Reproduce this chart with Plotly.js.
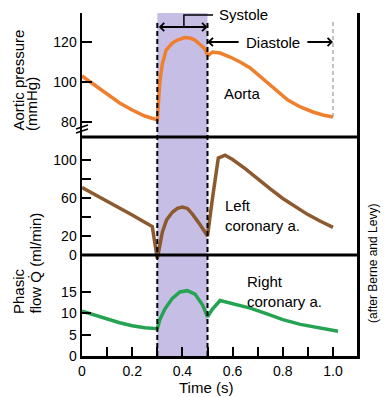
<!DOCTYPE html>
<html>
<head>
<meta charset="utf-8">
<script src="https://cdn.plot.ly/plotly-3.0.1.min.js"></script>
<style>html,body{margin:0;padding:0;background:#fff;}#chart{width:388px;height:397px;}</style>
</head>
<body>
<div id="chart"></div>
<script>
// ---- Data ----
const aortaTime = [0, 0.05, 0.1, 0.15, 0.2, 0.25, 0.3, 0.303, 0.31, 0.32, 0.335, 0.36, 0.38, 0.41, 0.43, 0.45, 0.47, 0.49, 0.5, 0.505, 0.52, 0.55, 0.59, 0.63, 0.67, 0.72, 0.77, 0.82, 0.87, 0.92, 0.96, 1.0];
const aortaPressure = [103, 98.5, 93.5, 89.5, 86, 83, 81, 88, 100, 109, 116, 119.5, 121, 122.2, 122, 121, 119, 116.5, 113.5, 113.5, 115, 114.5, 112.5, 110, 107, 101.5, 96, 91, 87.5, 85, 83.5, 82.5];

const leftTime = [0, 0.05, 0.1, 0.15, 0.2, 0.25, 0.28, 0.3, 0.31, 0.32, 0.337, 0.36, 0.38, 0.4, 0.42, 0.44, 0.47, 0.5, 0.52, 0.543, 0.57, 0.6, 0.65, 0.7, 0.75, 0.8, 0.85, 0.9, 0.95, 1.0];
const leftFlow = [71, 64, 56.5, 49.5, 42, 34.5, 30, -4, 12, 24, 37, 45, 49, 50.5, 49, 43, 32, 20, 60, 102, 105, 100.5, 91, 80, 69.5, 59.5, 50.5, 42.5, 35.5, 29];

const rightTime = [0, 0.05, 0.1, 0.15, 0.2, 0.25, 0.3, 0.31, 0.33, 0.36, 0.39, 0.42, 0.45, 0.48, 0.5, 0.52, 0.55, 0.6, 0.67, 0.74, 0.8, 0.87, 0.94, 1.02];
const rightFlow = [10.5, 9.6, 8.6, 7.8, 7.1, 6.6, 6.4, 8.5, 11, 13.5, 15, 15.3, 14.5, 12, 9.2, 11, 13, 12.3, 11.2, 9.8, 8.5, 7.4, 6.6, 5.8];

const xTickVals = [0, 0.1, 0.2, 0.3, 0.4, 0.5, 0.6, 0.7, 0.8, 0.9, 1.0];
const xTickText = ["0", "", "0.2", "", "0.4", "", "0.6", "", "0.8", "", "1.0"];
const aortaTickVals = [80, 100, 120];
const leftTickVals = [0, 20, 40, 60, 80, 100];
const leftTickText = ["0", "20", "", "60", "", "100"];
const rightTickVals = [0, 5, 10, 15];

const systoleStart = 0.3, systoleEnd = 0.5, cycleEnd = 1.0;

// ---- Geometry helpers (pixels -> paper) ----
const W = 388, H = 397;
const mL = 82, mR = 31, mT = 13, mB = 41;
const pw = W - mL - mR, ph = H - mT - mB;
const px = v => (v - mL) / pw;
const py = v => (H - mB - v) / ph;

const FONT = "Liberation Sans, Arial, Helvetica, sans-serif";
const axisCommon = {
  showgrid: false, zeroline: false, ticks: 'inside', tickwidth: 2, tickcolor: '#000',
  showline: true, linecolor: '#000', tickfont: {size: 14, color: '#000', family: FONT}, fixedrange: true
};

const traces = [
  {x: aortaTime, y: aortaPressure, yaxis: 'y', xaxis: 'x', mode: 'lines', line: {color: '#ef7f2d', width: 3.5}, hoverinfo: 'skip'},
  {x: leftTime, y: leftFlow, yaxis: 'y2', xaxis: 'x', mode: 'lines', line: {color: '#8c5a2e', width: 3.5}, hoverinfo: 'skip'},
  {x: rightTime, y: rightFlow, yaxis: 'y3', xaxis: 'x', mode: 'lines', line: {color: '#25a352', width: 3.5}, hoverinfo: 'skip'}
];

const layout = {
  width: W, height: H,
  margin: {l: mL, r: mR, t: mT, b: mB, pad: 0},
  paper_bgcolor: '#fff', plot_bgcolor: 'rgba(0,0,0,0)',
  showlegend: false,
  font: {family: FONT, color: '#000'},
  xaxis: Object.assign({}, axisCommon, {
    range: [0, 1.0956], anchor: 'y3', tickvals: xTickVals, ticktext: xTickText,
    ticklen: 9, linewidth: 3
  }),
  yaxis: Object.assign({}, axisCommon, {
    domain: [py(137), 1], range: [72.5, 134.5], anchor: 'x', tickvals: aortaTickVals,
    ticklen: 10, linewidth: 2.5, mirror: true
  }),
  yaxis2: Object.assign({}, axisCommon, {
    domain: [py(262), py(137)], range: [-7.4, 124.2], anchor: 'x', tickvals: leftTickVals, ticktext: leftTickText,
    ticklen: 9, linewidth: 2.5, mirror: true
  }),
  yaxis3: Object.assign({}, axisCommon, {
    domain: [0, py(255)], range: [0, 23.65], anchor: 'x', tickvals: rightTickVals,
    ticklen: 9, linewidth: 2.5, mirror: true
  }),
  shapes: [
    {type: 'rect', xref: 'x', yref: 'paper', x0: systoleStart, x1: systoleEnd, y0: 0, y1: 1, fillcolor: '#c7bee6', line: {width: 0}, layer: 'below'},
    {type: 'line', xref: 'x', yref: 'paper', x0: systoleStart, x1: systoleStart, y0: 0, y1: py(22), line: {color: '#000', width: 2, dash: '5px,3px'}},
    {type: 'line', xref: 'x', yref: 'paper', x0: systoleEnd, x1: systoleEnd, y0: 0, y1: py(22), line: {color: '#000', width: 2, dash: '5px,3px'}},
    {type: 'line', xref: 'x', yref: 'y', x0: cycleEnd, x1: cycleEnd, y0: 82.5, y1: 131, line: {color: '#9a9a9a', width: 1.2, dash: '4px,3px'}},
    {type: 'line', xref: 'paper', yref: 'paper', x0: 0, x1: 1, y0: py(137), y1: py(137), line: {color: '#000', width: 3}},
    {type: 'line', xref: 'paper', yref: 'y2', x0: 0, x1: 1, y0: 0, y1: 0, line: {color: '#000', width: 3}},
    {type: 'path', xref: 'x', yref: 'y', path: 'M 0.406,127.5 V 133.5 H 0.522', line: {color: '#000', width: 1.5}},
    {type: 'line', xref: 'paper', yref: 'paper', x0: px(76), x1: px(88), y0: py(129), y1: py(125), line: {color: '#000', width: 1.5}},
    {type: 'line', xref: 'paper', yref: 'paper', x0: px(76), x1: px(88), y0: py(133), y1: py(129), line: {color: '#000', width: 1.5}}
  ],
  annotations: [
    // systole double arrow
    {xref: 'x', yref: 'y', x: systoleEnd, y: 127.5, axref: 'x', ayref: 'y', ax: systoleStart, ay: 127.5, text: '', showarrow: true,
     arrowside: 'end+start', arrowhead: 4, startarrowhead: 4, arrowsize: 0.8, startarrowsize: 0.8, arrowwidth: 2, arrowcolor: '#000', standoff: 0, startstandoff: 0},
    // diastole arrows
    {xref: 'x', yref: 'y', x: systoleEnd, y: 120, axref: 'x', ayref: 'y', ax: 0.63, ay: 120, text: '', showarrow: true,
     arrowhead: 4, arrowsize: 0.8, arrowwidth: 2, arrowcolor: '#000', standoff: 0},
    {xref: 'x', yref: 'y', x: cycleEnd, y: 120, axref: 'x', ayref: 'y', ax: 0.892, ay: 120, text: '', showarrow: true,
     arrowhead: 4, arrowsize: 0.8, arrowwidth: 2, arrowcolor: '#000', standoff: 0},
    {xref: 'x', yref: 'y', x: 0.761, y: 120, text: 'Diastole', showarrow: false, xanchor: 'center', yanchor: 'middle', font: {size: 15}},
    {xref: 'x', yref: 'paper', x: 0.538, y: py(15), text: 'Systole', showarrow: false, xanchor: 'left', yanchor: 'middle', font: {size: 15}},
    {xref: 'x', yref: 'y', x: 0.558, y: 94.5, text: 'Aorta', showarrow: false, xanchor: 'left', yanchor: 'middle', font: {size: 15}},
    {xref: 'x', yref: 'y2', x: 0.56, y: 42, text: 'Left<br>coronary a.', align: 'left', showarrow: false, xanchor: 'left', yanchor: 'middle', font: {size: 15}},
    {xref: 'x', yref: 'y3', x: 0.648, y: 15.1, text: 'Right<br>coronary a.', align: 'left', showarrow: false, xanchor: 'left', yanchor: 'middle', font: {size: 15}},
    // axis titles
    {xref: 'paper', yref: 'paper', x: px(18), y: py(133), text: 'Aortic pressure', textangle: -90, showarrow: false, xanchor: 'center', yanchor: 'bottom', font: {size: 15}},
    {xref: 'paper', yref: 'paper', x: px(31), y: py(133), text: '(mmHg)', textangle: -90, showarrow: false, xanchor: 'center', yanchor: 'bottom', font: {size: 15}},
    {xref: 'paper', yref: 'paper', x: px(18), y: py(316), text: 'Phasic', textangle: -90, showarrow: false, xanchor: 'center', yanchor: 'bottom', font: {size: 15}},
    {xref: 'paper', yref: 'paper', x: px(35), y: py(316), text: 'flow Q\u0307 (ml/min)', textangle: -90, showarrow: false, xanchor: 'center', yanchor: 'bottom', font: {size: 15}},
    {xref: 'paper', yref: 'paper', x: px(206), y: py(387), text: 'Time (s)', showarrow: false, xanchor: 'center', yanchor: 'middle', font: {size: 15}},
    {xref: 'paper', yref: 'paper', x: px(373), y: py(264), text: '(after Berne and Levy)', textangle: -90, showarrow: false, xanchor: 'center', yanchor: 'middle', font: {size: 12}}
  ]
};

Plotly.newPlot('chart', traces, layout, {staticPlot: true, displayModeBar: false});
</script>
</body>
</html>
